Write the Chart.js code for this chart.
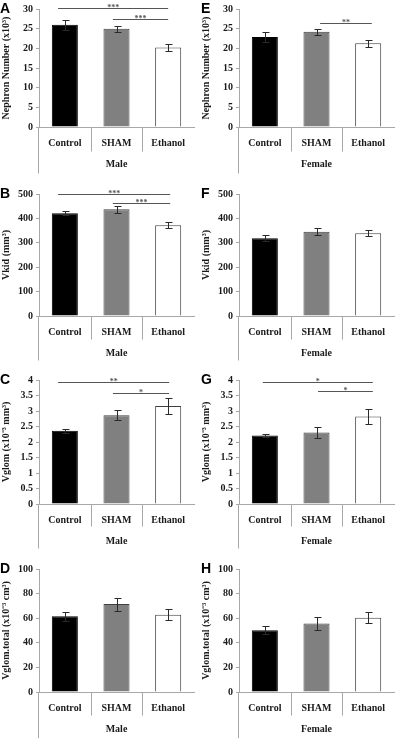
<!DOCTYPE html>
<html><head><meta charset="utf-8">
<script src="https://cdn.jsdelivr.net/npm/chart.js@4/dist/chart.umd.min.js"></script>
<style>
html,body{margin:0;padding:0;background:#fff;}
body{width:400px;height:738px;position:relative;overflow:hidden;}
canvas{position:absolute;}
</style></head><body>
<canvas id="cA" width="200" height="185" style="left:0;top:0"></canvas>
<canvas id="cE" width="200" height="185" style="left:200px;top:0"></canvas>
<canvas id="cB" width="200" height="185" style="left:0;top:185px"></canvas>
<canvas id="cF" width="200" height="185" style="left:200px;top:185px"></canvas>
<canvas id="cC" width="200" height="185" style="left:0;top:370px"></canvas>
<canvas id="cG" width="200" height="185" style="left:200px;top:370px"></canvas>
<canvas id="cD" width="200" height="183" style="left:0;top:555px"></canvas>
<canvas id="cH" width="200" height="183" style="left:200px;top:555px"></canvas>
<script>
// ---- data ----
const categories = ['Control', 'SHAM', 'Ethanol'];
const barColors = ['#000000', '#808080', '#ffffff'];
const barBorders = ['#000000', '#404040', '#404040'];

const nephronMale = [26.0, 25.0, 20.2];
const nephronMaleErr = [1.3, 0.8, 0.9];
const nephronFemale = [22.9, 24.2, 21.3];
const nephronFemaleErr = [1.2, 0.7, 0.9];

const vkidMale = [421, 438, 372];
const vkidMaleErr = [9, 14, 12];
const vkidFemale = [319, 345, 339];
const vkidFemaleErr = [11, 14, 12];

const vglomMale = [2.36, 2.86, 3.16];
const vglomMaleErr = [0.06, 0.16, 0.25];
const vglomFemale = [2.21, 2.31, 2.82];
const vglomFemaleErr = [0.05, 0.17, 0.24];

const vtotMale = [61.5, 71.5, 62.8];
const vtotMaleErr = [3.6, 5.3, 4.5];
const vtotFemale = [50.3, 55.7, 60.3];
const vtotFemaleErr = [3.0, 5.2, 4.5];

// significance brackets: from / to category position, height in data units, label
const sigNephronMale = [{from: -0.13, to: 2.0, y: 30.2, label: '***'}, {from: 0.93, to: 2.0, y: 27.5, label: '***'}];
const sigNephronFemale = [{from: 1.07, to: 2.07, y: 26.5, label: '**'}];
const sigVkidMale = [{from: -0.13, to: 2.04, y: 500, label: '***'}, {from: 0.93, to: 2.04, y: 464, label: '***'}];
const sigVkidFemale = [];
const sigVglomMale = [{from: -0.13, to: 2.02, y: 3.93, label: '**'}, {from: 0.93, to: 2.02, y: 3.57, label: '*'}];
const sigVglomFemale = [{from: -0.04, to: 2.09, y: 3.95, label: '*'}, {from: 1.03, to: 2.09, y: 3.65, label: '*'}];
const sigVtotMale = [];
const sigVtotFemale = [];

// axis settings
const yMaxNephron = 30, yStepNephron = 5;
const yMaxVkid = 500, yStepVkid = 100;
const yMaxVglom = 4, yStepVglom = 0.5;
const yMaxVtot = 100, yStepVtot = 20;

const titleNephron = 'Nephron Number (x10\u00B3)';
const titleVkid = 'Vkid (mm\u00B3)';
const titleVglom = 'Vglom (x10\u207B\u00B3 mm\u00B3)';
const titleVtot = 'Vglom.total (x10\u207B\u00B3 cm\u00B3)';

// ---- layout ----
const SERIF = '"Liberation Serif", "Times New Roman", serif';
const AXIS = '#a8a8a8';
const TXT = '#1a1a1a';

const panels = [
  {id: 'A', col: 0, canvas: 'cA', values: nephronMale, errors: nephronMaleErr, yMax: yMaxNephron, step: yStepNephron, title: titleNephron, group: 'Male', sig: sigNephronMale, padTop: 5, zero: 127, sep: 24, line: 46},
  {id: 'E', col: 1, canvas: 'cE', values: nephronFemale, errors: nephronFemaleErr, yMax: yMaxNephron, step: yStepNephron, title: titleNephron, group: 'Female', sig: sigNephronFemale, padTop: 5, zero: 127, sep: 24, line: 46},
  {id: 'B', col: 0, canvas: 'cB', values: vkidMale, errors: vkidMaleErr, yMax: yMaxVkid, step: yStepVkid, title: titleVkid, group: 'Male', sig: sigVkidMale, padTop: 6, zero: 131, sep: 23, line: 44},
  {id: 'F', col: 1, canvas: 'cF', values: vkidFemale, errors: vkidFemaleErr, yMax: yMaxVkid, step: yStepVkid, title: titleVkid, group: 'Female', sig: sigVkidFemale, padTop: 6, zero: 131, sep: 23, line: 44},
  {id: 'C', col: 0, canvas: 'cC', values: vglomMale, errors: vglomMaleErr, yMax: yMaxVglom, step: yStepVglom, title: titleVglom, group: 'Male', sig: sigVglomMale, padTop: 10, zero: 134, sep: 22, line: 44},
  {id: 'G', col: 1, canvas: 'cG', values: vglomFemale, errors: vglomFemaleErr, yMax: yMaxVglom, step: yStepVglom, title: titleVglom, group: 'Female', sig: sigVglomFemale, padTop: 10, zero: 134, sep: 22, line: 44},
  {id: 'D', col: 0, canvas: 'cD', values: vtotMale, errors: vtotMaleErr, yMax: yMaxVtot, step: yStepVtot, title: titleVtot, group: 'Male', sig: sigVtotMale, padTop: 14, zero: 137, sep: 23, line: 46},
  {id: 'H', col: 1, canvas: 'cH', values: vtotFemale, errors: vtotFemaleErr, yMax: yMaxVtot, step: yStepVtot, title: titleVtot, group: 'Female', sig: sigVtotFemale, padTop: 14, zero: 137, sep: 23, line: 46}
];

const decor = {
  id: 'decor',
  afterDatasetsDraw(chart) {
    const p = chart.config.options.panel;
    const ctx = chart.ctx, y = chart.scales.y;
    const meta = chart.getDatasetMeta(0);
    ctx.save();
    ctx.strokeStyle = '#2a2a2a';
    ctx.lineWidth = 1;
    p.errors.forEach((e, i) => {
      const v = p.values[i];
      const px = Math.round(meta.data[i].x) + 0.5;
      const t = Math.round(y.getPixelForValue(v + e)) + 0.5;
      const b = Math.round(y.getPixelForValue(v - e)) + 0.5;
      ctx.beginPath();
      ctx.moveTo(px, t); ctx.lineTo(px, b);
      ctx.moveTo(px - 3, t); ctx.lineTo(px + 4, t);
      ctx.moveTo(px - 3, b); ctx.lineTo(px + 4, b);
      ctx.stroke();
    });
    ctx.restore();
  },
  afterDraw(chart) {
    const p = chart.config.options.panel;
    const ctx = chart.ctx, x = chart.scales.x, y = chart.scales.y;
    const area = chart.chartArea;
    const zero = Math.round(y.getPixelForValue(0)) + 0.5;
    ctx.save();
    // category separators and outer left line
    ctx.strokeStyle = AXIS;
    ctx.lineWidth = 1;
    ctx.beginPath();
    for (let i = 0; i < categories.length - 1; i++) {
      const bx = Math.round(x.getPixelForValue(i + 0.5)) + 0.5;
      ctx.moveTo(bx, zero); ctx.lineTo(bx, zero + p.sep);
    }
    const lx = Math.round(area.left) - 0.5;
    ctx.moveTo(lx, zero); ctx.lineTo(lx, zero + p.line);
    ctx.stroke();
    // group label
    ctx.fillStyle = TXT;
    ctx.font = 'bold 10px ' + SERIF;
    ctx.textAlign = 'center';
    ctx.textBaseline = 'middle';
    ctx.fillText(p.group, (area.left + area.right) / 2, zero + 37);
    // significance brackets
    ctx.strokeStyle = '#555';
    ctx.fillStyle = '#555';
    ctx.font = 'bold 8px ' + SERIF;
    ctx.textBaseline = 'alphabetic';
    p.sig.forEach(s => {
      const x1 = x.getPixelForValue(s.from), x2 = x.getPixelForValue(s.to);
      const sy = Math.round(y.getPixelForValue(s.y)) + 0.5;
      ctx.beginPath(); ctx.moveTo(x1, sy); ctx.lineTo(x2, sy); ctx.stroke();
      ctx.fillText(s.label, (x1 + x2) / 2, sy + 1.5);
    });
    // panel letter
    ctx.fillStyle = '#000';
    ctx.font = 'bold 14px "Liberation Sans", Arial, sans-serif';
    ctx.textAlign = 'left';
    ctx.textBaseline = 'middle';
    const top = y.getPixelForValue(p.yMax);
    ctx.fillText(p.id, p.col === 0 ? 0 : 1, Math.max(8, top + 0.5));
    ctx.restore();
  }
};

panels.forEach(p => {
  const cv = document.getElementById(p.canvas);
  const H = cv.height;
  new Chart(cv, {
    type: 'bar',
    data: {
      labels: categories,
      datasets: [{
        data: p.values,
        backgroundColor: barColors,
        borderColor: barBorders,
        borderWidth: 1,
        barPercentage: 0.72,
        categoryPercentage: 0.7
      }]
    },
    options: {
      panel: p,
      responsive: false,
      animation: false,
      devicePixelRatio: 1,
      layout: {autoPadding: false, padding: {top: p.padTop, right: 6, left: 0, bottom: 0}},
      plugins: {legend: {display: false}, tooltip: {enabled: false}},
      scales: {
        x: {
          type: 'category',
          offset: true,
          grid: {display: false, drawTicks: false, offset: true},
          border: {display: true, color: AXIS, width: 1},
          ticks: {color: TXT, font: {family: SERIF, size: 10, weight: 'bold'}, padding: 10, maxRotation: 0, autoSkip: false},
          afterFit: s => { s.height = H - p.zero; }
        },
        y: {
          min: 0, max: p.yMax,
          grid: {drawOnChartArea: false, drawTicks: true, tickLength: 3, color: AXIS},
          border: {display: true, color: AXIS, width: 1},
          ticks: {stepSize: p.step, color: TXT, font: {family: SERIF, size: 10, weight: 'bold'}, padding: 3,
                  callback: v => String(Math.round(v * 100) / 100)},
          title: {display: true, text: p.title, color: TXT, font: {family: SERIF, size: 10, weight: 'bold'}, padding: 0},
          afterFit: s => { s.width = 39; }
        }
      }
    },
    plugins: [decor]
  });
});
</script>
</body></html>
